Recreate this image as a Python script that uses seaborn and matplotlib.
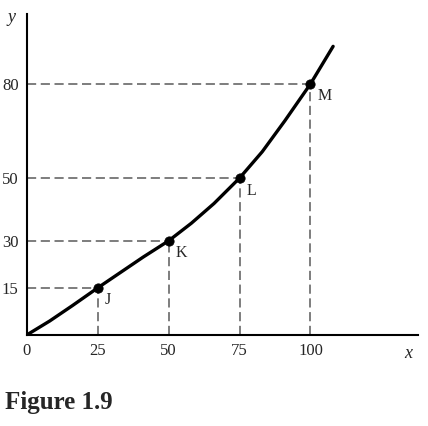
import numpy as np
import pandas as pd
import matplotlib
matplotlib.use("Agg")
import matplotlib.pyplot as plt
import seaborn as sns

# punti etichettati
point_names = ["J", "K", "L", "M"]
point_x = [25, 50, 75, 100]
point_y = [15, 30, 50, 80]

# curva
curve_x = [0, 8, 16, 25, 33, 41, 50, 58, 66, 75, 83, 91, 100, 104, 108]
curve_y = [0, 4.4, 9.3, 15, 19.9, 24.8, 30, 35.6, 41.9, 50, 58.4, 68.3, 80, 86, 92]

x_ticks = [0, 25, 50, 75, 100]
y_ticks = [15, 30, 50, 80]

sns.set_style("white")
plt.rcParams["font.family"] = ["Liberation Serif", "DejaVu Serif"]

fig = plt.figure(figsize=(4.28, 4.26), dpi=100)
ax = fig.add_axes([0.063, 0.214, 0.914, 0.753])

curve = pd.DataFrame({"x": curve_x, "y": curve_y})
pts = pd.DataFrame({"x": point_x, "y": point_y, "name": point_names})

# linee tratteggiate verso gli assi
for px, py in zip(point_x, point_y):
    ax.plot([0, px], [py, py], color="#5a5a5a", lw=1.1, ls=(0, (6, 3)), zorder=1)
    ax.plot([px, px], [0, py], color="#5a5a5a", lw=1.1, ls=(0, (6, 3)), zorder=1)

sns.lineplot(data=curve, x="x", y="y", ax=ax, color="black", lw=2.4, zorder=3)
sns.scatterplot(data=pts, x="x", y="y", ax=ax, color="black", s=45, zorder=4,
                edgecolor="black")

for _, r in pts.iterrows():
    ax.annotate(r["name"], (r["x"], r["y"]), xytext=(5, -9), textcoords="offset points",
                fontsize=11.5, ha="left", va="center")

ax.set_xlim(0, 138)
ax.set_ylim(0, 102.3)
ax.set_xticks(x_ticks)
ax.set_yticks(y_ticks)
ax.tick_params(length=0, labelsize=12, pad=6)
ax.set_xlabel("")
ax.set_ylabel("")
for s in ["top", "right"]:
    ax.spines[s].set_visible(False)
for s in ["left", "bottom"]:
    ax.spines[s].set_color("black")
    ax.spines[s].set_linewidth(1.5)

fig.text(12 / 428, 1 - 18 / 426, "y", fontsize=13, style="italic", ha="center", va="center")
fig.text(408 / 428, 1 - 353 / 426, "x", fontsize=13, style="italic", ha="center", va="center")
fig.text(5 / 428, 1 - 403 / 426, "Figure 1.9", fontsize=18, fontweight="bold", ha="left", va="center")

fig.savefig("out.png", dpi=100)
